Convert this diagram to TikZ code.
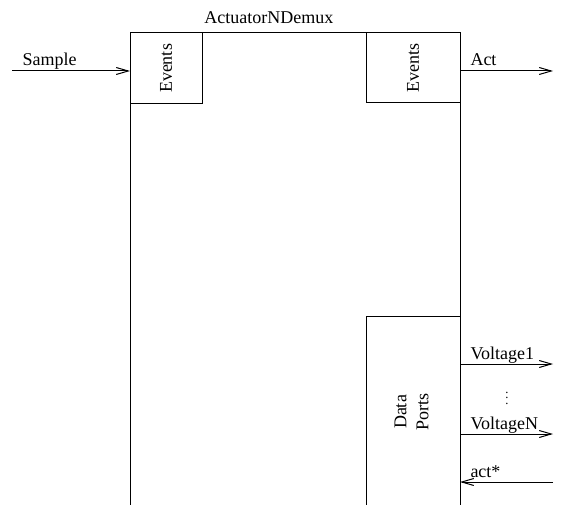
\documentclass[tikz,border=0pt]{standalone}
\usepackage{fontspec}
\setmainfont{Liberation Serif}
\usetikzlibrary{positioning,arrows.meta}

\begin{document}
\begin{tikzpicture}[
  x=0.5pt, y=0.5pt,
  font=\fontsize{9}{11}\selectfont,
  blk/.style={draw, line width=0.5pt, inner sep=0pt, outer sep=0pt},
  lbl/.style={anchor=base west, inner sep=0pt, xshift=5pt, yshift=2.5pt},
  ar/.style={-{Straight Barb[length=6pt,width=3.5pt]}, line width=0.5pt},
]
  \useasboundingbox (0,0) rectangle (562,504);

  %% Block with its port groups
  \node[blk, anchor=north west, minimum width=165pt, minimum height=240.5pt]
    (demux) at (130,471) {};
  \node[anchor=base west, inner sep=0pt] (title) at (204,480) {ActuatorNDemux};

  \node[blk, anchor=north west, minimum width=36pt, minimum height=35.5pt]
    (evin) at (demux.north west) {\rotatebox{90}{Events}};
  \node[blk, anchor=north east, minimum width=47pt, minimum height=35pt]
    (evout) at (demux.north east) {\rotatebox{90}{Events}};

  \coordinate (dptop) at (460,188);
  \node[blk, anchor=north east, minimum width=47pt, minimum height=96pt]
    (dports) at (dptop) {\rotatebox{90}{\begin{tabular}{@{}c@{}}Data\\Ports\end{tabular}}};

  %% Free ends of the connectors
  \coordinate (sample) at (12,433);
  \coordinate (act)    at (553,433);
  \coordinate (volt1)  at (553,140);
  \coordinate (voltN)  at (553,70);
  \coordinate (actin)  at (553,22);

  %% Event connectors
  \draw[ar] (sample) -- (sample -| demux.west) node[lbl, pos=0] {Sample};
  \draw[ar] (act -| evout.east) -- (act) node[lbl, pos=0] {Act};

  %% Data connectors
  \draw[ar] (volt1 -| dports.east) -- (volt1) node[lbl, pos=0] {Voltage1};
  \draw[ar] (voltN -| dports.east) -- (voltN) node[lbl, pos=0] {VoltageN};
  \draw[ar] (actin) -- (actin -| dports.east) node[lbl, pos=1] {act*};
  \node[inner sep=0pt] (dots) at (507,110) {\scalebox{0.7}{$\vdots$}};
\end{tikzpicture}
\end{document}
